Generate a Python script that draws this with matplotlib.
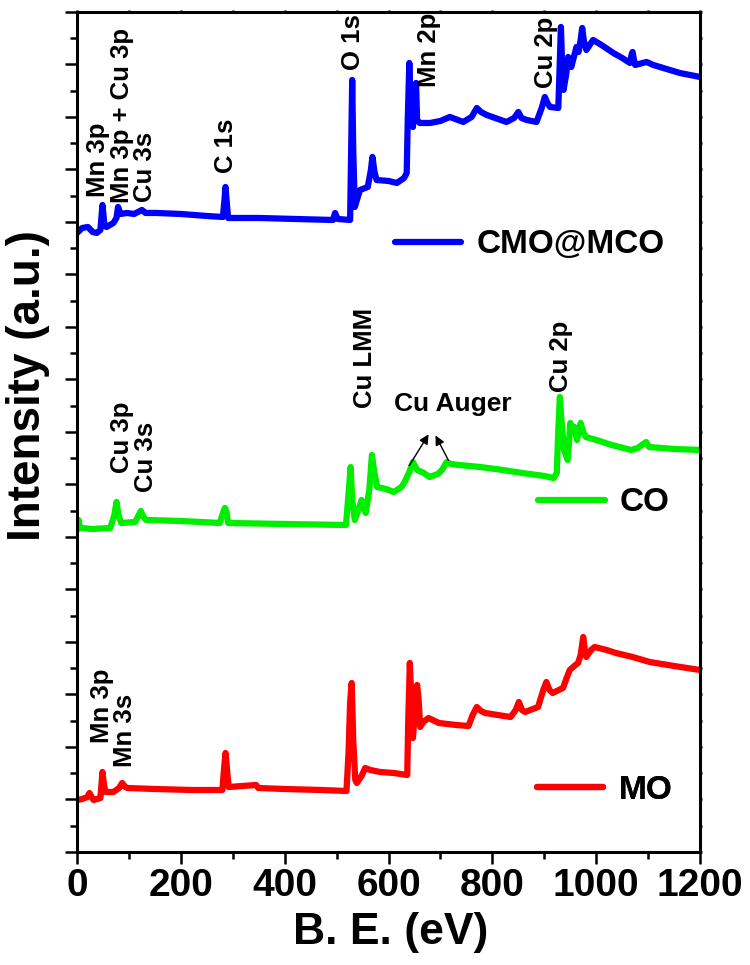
import matplotlib
matplotlib.use("Agg")
import matplotlib.pyplot as plt
from matplotlib.ticker import MultipleLocator

plt.rcParams['font.family'] = ['Liberation Sans', 'DejaVu Sans']
plt.rcParams['font.weight'] = 'bold'

# XPS survey spectra, binding energy (eV) vs intensity (a.u., already offset)
be_cmo = [0, 10, 21, 30, 38, 45, 49, 53, 57, 70, 76, 79, 84, 96, 110, 125, 132, 153, 200, 250,
          281, 284, 286, 288, 291, 350, 420, 493, 497, 502, 526, 528, 530, 532, 535, 545, 560, 566,
          569, 573, 577, 600, 616, 630, 635, 637, 640, 643, 647, 650, 653, 655, 660, 680, 700, 718,
          744, 760, 770, 778, 789, 827, 842, 850, 856, 866, 885, 895, 901, 906, 911, 927, 930, 932,
          934, 937, 942, 946, 952, 958, 962, 966, 970, 973, 976, 981, 994, 1010, 1033, 1050, 1065,
          1068, 1070, 1072, 1075, 1097, 1110, 1129, 1161, 1200]
int_cmo = [619, 624, 625, 620, 619, 622, 647, 626, 625, 629, 634, 645, 638, 639, 638, 642, 639, 639, 638, 636,
           635, 652, 665, 652, 634, 634, 633, 632, 639, 633, 632, 702, 772, 702, 645, 662, 665, 682,
           695, 680, 672, 671, 669, 674, 679, 732, 789, 742, 725, 752, 769, 732, 729, 729, 731, 735,
           730, 735, 744, 740, 737, 730, 734, 740, 734, 732, 730, 744, 755, 749, 745, 744, 792, 825,
           792, 762, 777, 795, 785, 797, 805, 800, 812, 824, 812, 802, 812, 807, 799, 794, 789,
           797, 800, 794, 787, 790, 787, 784, 779, 775]

be_co = [0, 3, 6, 30, 64, 72, 76, 80, 85, 112, 120, 123, 127, 133, 200, 275, 283, 285, 288, 291,
         400, 518, 522, 527, 530, 535, 542, 548, 556, 563, 568, 572, 578, 595, 610, 625, 631, 640,
         647, 655, 668, 679, 695, 703, 712, 720, 736, 776, 820, 857, 900, 918, 924, 927, 930, 933,
         938, 945, 948, 950, 954, 958, 963, 970, 975, 980, 1000, 1030, 1067, 1080, 1096, 1102, 1150, 1200]
int_co = [322, 332, 324, 323, 324, 337, 350, 337, 329, 330, 338, 341, 336, 332, 331, 329, 342, 344, 340, 329,
          328, 327, 352, 385, 352, 332, 342, 352, 339, 362, 397, 382, 365, 363, 360, 365, 370, 380,
          390, 382, 379, 375, 378, 382, 390, 388, 387, 385, 382, 379, 376, 374, 379, 422, 455, 432,
          402, 392, 412, 429, 424, 425, 412, 429, 420, 415, 412, 407, 402, 404, 410, 405, 403, 402]

be_mo = [0, 10, 20, 24, 28, 32, 45, 47, 49, 52, 55, 70, 81, 87, 93, 97, 150, 220, 280, 283,
         286, 289, 292, 345, 349, 400, 470, 519, 523, 526, 529, 532, 536, 539, 548, 555, 565, 584,
         610, 636, 638, 641, 644, 647, 651, 655, 658, 661, 667, 677, 697, 730, 754, 762, 770, 778,
         786, 835, 845, 851, 857, 863, 888, 898, 904, 910, 916, 936, 943, 949, 960, 965, 970, 975,
         978, 981, 990, 997, 1020, 1038, 1070, 1103, 1150, 1200]
int_mo = [52, 53, 55, 59, 55, 52, 54, 67, 80, 67, 60, 60, 64, 69, 65, 64, 63, 62, 62, 82,
          99, 82, 65, 67, 64, 63, 62, 61, 100, 150, 169, 112, 72, 69, 76, 84, 82, 80,
          79, 77, 132, 189, 152, 114, 142, 167, 152, 125, 130, 134, 129, 127, 126, 137, 145, 141,
          139, 135, 142, 150, 142, 140, 145, 162, 170, 162, 159, 164, 174, 182, 187, 189, 197, 215,
          202, 195, 202, 205, 202, 199, 195, 190, 186, 182]

series_names = ['CMO@MCO', 'CO', 'MO']
series_colors = ['#0000ff', '#00ee00', '#ff0000']

# peak labels: text, energy, height of the text foot
peak_labels = [
    ('Mn 3p', 41, 655), ('Mn 3p + Cu 3p', 86, 649), ('Cu 3s', 130, 650),
    ('C 1s', 287, 679), ('O 1s', 532, 782), ('Mn 2p', 678, 765), ('Cu 2p', 903, 764),
    ('Cu 3p', 86, 379), ('Cu 3s', 133, 360), ('Cu LMM', 555, 444), ('Cu 2p', 932, 460),
    ('Mn 3p', 49, 109), ('Mn 3s', 93, 85),
]
auger_text = ('Cu Auger', 724, 448)
auger_arrows = [((637, 384), (680, 420)), ((718, 389), (688, 419))]

fig = plt.figure(figsize=(7.5, 9.65), dpi=100)
ax = fig.add_axes([0.1027, 0.1171, 0.8307, 0.8705])

lines = []
for xs, ys, c in zip([be_cmo, be_co, be_mo], [int_cmo, int_co, int_mo], series_colors):
    ln, = ax.plot(xs, ys, color=c, lw=4.5, solid_joinstyle='round', solid_capstyle='round')
    lines.append(ln)

for txt, x, y in peak_labels:
    ax.text(x, y, txt, rotation=90, ha='center', va='bottom', fontsize=18.5, fontweight='bold')

ax.text(auger_text[1], auger_text[2], auger_text[0], ha='center', va='center',
        fontsize=19, fontweight='bold')
for tail, head in auger_arrows:
    ax.annotate('', xy=head, xytext=tail,
                arrowprops=dict(arrowstyle='-|>', color='black', lw=1, mutation_scale=14))

# one legend per curve
leg_pos = [(0.510, 0.7226), (0.740, 0.4155), (0.738, 0.0738)]
for ln, name, pos in zip(lines, series_names, leg_pos):
    lg = ax.legend([ln], [name], loc='center left', bbox_to_anchor=pos, frameon=False,
                   borderpad=0, borderaxespad=0, handlelength=2.0, handletextpad=0.45,
                   prop={'size': 24, 'weight': 'bold'})
    ax.add_artist(lg)

ax.set_xlim(0, 1200)
ax.set_ylim(0, 840)
ax.xaxis.set_major_locator(MultipleLocator(200))
ax.xaxis.set_minor_locator(MultipleLocator(100))
ax.yaxis.set_major_locator(MultipleLocator(52.5))
ax.yaxis.set_minor_locator(MultipleLocator(26.25))
ax.set_yticklabels([])

for s in ax.spines.values():
    s.set_linewidth(2.2)
ax.tick_params(which='major', direction='out', length=8.5, width=1.8, labelsize=28, pad=3)
ax.tick_params(which='minor', direction='out', length=5, width=1.8)
ax.tick_params(which='both', top=True, right=True)
# top and right ticks are only tiny stubs
for t in ax.xaxis.get_majorticklines()[1::2] + ax.yaxis.get_majorticklines()[1::2]:
    t.set_markersize(1.5)
for t in ax.xaxis.get_minorticklines()[1::2] + ax.yaxis.get_minorticklines()[1::2]:
    t.set_markersize(1.5)
for lab in ax.get_xticklabels():
    lab.set_fontweight('bold')

ax.set_xlabel('B. E. (eV)', fontsize=32, fontweight='bold', va='top')
ax.xaxis.set_label_coords(0.504, -0.0714)
ax.set_ylabel('Intensity (a.u.)', fontsize=33, fontweight='bold')
ax.yaxis.set_label_coords(-0.0433, 0.555)

fig.savefig('out.png', dpi=100)
